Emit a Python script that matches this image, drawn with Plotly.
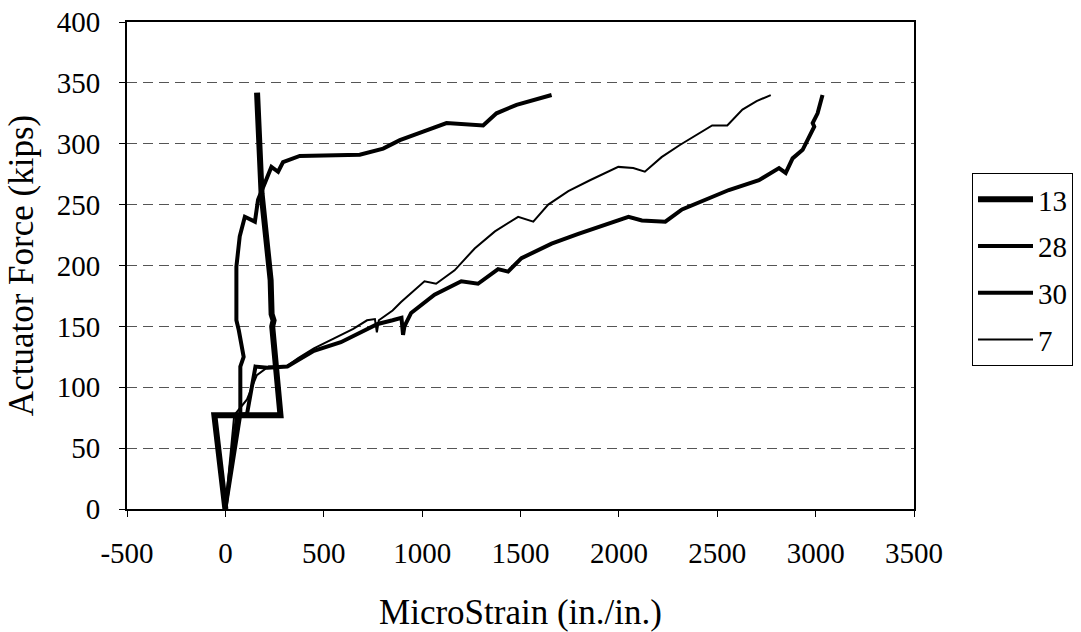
import plotly.graph_objects as go

# Series data (MicroStrain, Actuator Force kips)
s13_x = [0, -56, 280, 250, 242, 238, 245, 235, 230, 209, 184, 161]
s13_y = [0, 77, 77, 130, 140, 150, 155, 160, 188, 221, 259, 342]

s28_x = [0, 70, 76, 76, 93, 68, 56, 56, 73, 99, 150, 166, 200, 234, 268, 293, 378,
         683, 802, 887, 1005, 1124, 1310, 1378, 1480, 1582, 1658]
s28_y = [0, 77, 78, 117, 125, 147, 155, 199, 224, 240, 236, 254, 268, 281, 277, 285, 290,
         291, 296, 303, 310, 317, 315, 325, 332, 337, 340]

s30_x = [0, 60, 110, 153, 213, 315, 366, 450, 587, 700, 774, 850, 895, 903, 910, 944,
         1063, 1199, 1284, 1386, 1437, 1505, 1658, 1794, 1964, 2049, 2117, 2236, 2321,
         2440, 2559, 2712, 2814, 2848, 2883, 2934, 2968, 2993, 2985, 3010, 3035]
s30_y = [0, 77, 78, 117, 116, 117, 122, 130, 137, 146, 152, 155, 157, 143, 150, 161,
         176, 187, 185, 197, 195, 206, 218, 226, 235, 240, 237, 236, 246,
         254, 262, 270, 280, 276, 288, 295, 306, 314, 317, 325, 340]

s7_x = [0, 45, 110, 160, 220, 310, 370, 450, 550, 650, 720, 760, 770, 780, 850, 893,
        1012, 1071, 1165, 1267, 1370, 1488, 1565, 1641, 1743, 1853, 1997, 2073, 2132,
        2217, 2310, 2474, 2551, 2628, 2700, 2772]
s7_y = [0, 77, 90, 110, 117, 117, 124, 132, 140, 148, 155, 156, 145, 155, 163, 170,
        187, 185, 196, 214, 228, 240, 236, 250, 261, 270, 281, 280, 277,
        289, 299, 315, 315, 328, 335, 340]

series_names = ["13", "28", "30", "7"]
series_widths = [6, 4, 4, 2]

x_ticks = [-500, 0, 500, 1000, 1500, 2000, 2500, 3000, 3500]
x_tick_text = ["-500", "0", "500", "1000", "1500", "2000", "2500", "3000", "3500"]
y_ticks = [0, 50, 100, 150, 200, 250, 300, 350, 400]

FONT = "Liberation Serif, Times New Roman, serif"
TICK_SIZE = 29
LEGEND_SIZE = 29
TITLE_SIZE = 35

fig = go.Figure()
data = [(s13_x, s13_y), (s28_x, s28_y), (s30_x, s30_y), (s7_x, s7_y)]
for (xs, ys), name, w in zip(data, series_names, series_widths):
    fig.add_trace(go.Scatter(x=xs, y=ys, mode="lines", name=name, legendgroup=name,
                             line=dict(color="black", width=w)))

fig.update_layout(
    width=1081, height=632,
    margin=dict(l=127, r=167, t=22, b=123, autoexpand=False),
    paper_bgcolor="white", plot_bgcolor="white",
    font=dict(family=FONT, size=TICK_SIZE, color="black"),
    showlegend=True,
    legend=dict(x=1.0737, y=0.69, xanchor="left", yanchor="top",
                bordercolor="black", borderwidth=1, bgcolor="white",
                font=dict(family=FONT, size=LEGEND_SIZE, color="black"),
                traceorder="grouped", tracegroupgap=6, itemwidth=55),
    xaxis=dict(range=[-500, 3500], tickvals=x_ticks, ticktext=x_tick_text,
               showgrid=False, zeroline=False, showline=True, linecolor="black",
               linewidth=2, mirror=True, ticks="outside", ticklen=6,
               tickcolor="black", ticklabelstandoff=11, automargin=False,
               tickfont=dict(family=FONT, size=TICK_SIZE),
               title=dict(text="MicroStrain (in./in.)", standoff=32,
                          font=dict(family=FONT, size=TITLE_SIZE))),
    yaxis=dict(range=[0, 400], tickvals=y_ticks,
               showgrid=True, gridcolor="#555", griddash="10px,6px", gridwidth=1,
               zeroline=False, showline=True, linecolor="black",
               linewidth=2, mirror=True, ticks="outside", ticklen=6,
               tickcolor="black", ticklabelstandoff=13, automargin=False,
               tickfont=dict(family=FONT, size=TICK_SIZE),
               title=dict(text="Actuator Force (kips)", standoff=12,
                          font=dict(family=FONT, size=TITLE_SIZE))),
)

fig.write_html("out.html", config={"displayModeBar": False},
               post_script="document.body.style.margin='0px';")
